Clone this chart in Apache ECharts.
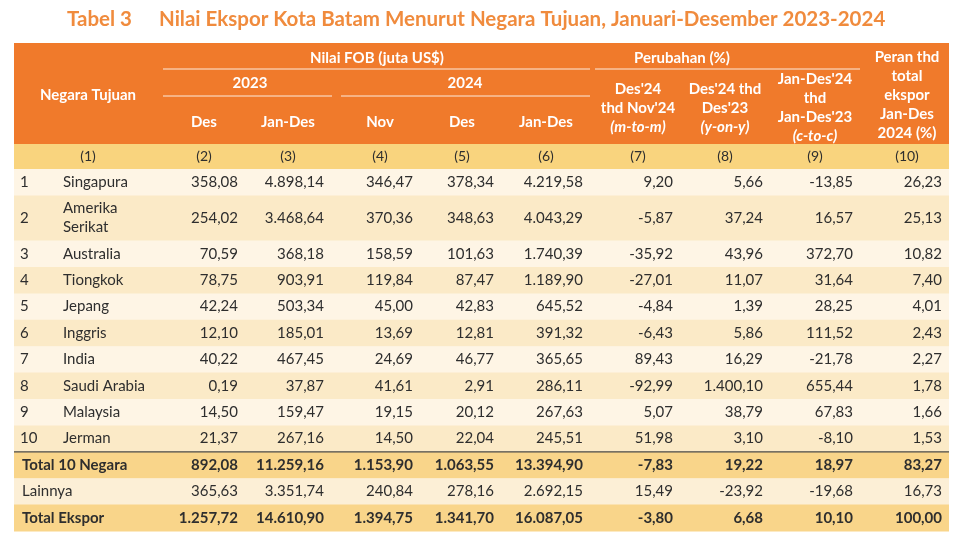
<!DOCTYPE html>
<html>
<head>
<meta charset="utf-8">
<script src="https://cdn.jsdelivr.net/npm/echarts@6/dist/echarts.min.js"></script>
<style>
  html, body { margin: 0; padding: 0; background: #fff; }
  #chart { width: 964px; height: 537px; }
</style>
</head>
<body>
<div id="chart"></div>
<script>
// --- data (values as printed in the table) ---
const tableNo = 'Tabel 3';
const tableTitle = 'Nilai Ekspor Kota Batam Menurut Negara Tujuan, Januari-Desember 2023-2024';

const rowNumbers = ['1', '2', '3', '4', '5', '6', '7', '8', '9', '10', '', '', ''];
const rowLabels = ['Singapura', 'Amerika\nSerikat', 'Australia', 'Tiongkok', 'Jepang', 'Inggris',
  'India', 'Saudi Arabia', 'Malaysia', 'Jerman', 'Total 10 Negara', 'Lainnya', 'Total Ekspor'];

const des2023    = [358.08, 254.02, 70.59, 78.75, 42.24, 12.10, 40.22, 0.19, 14.50, 21.37, 892.08, 365.63, 1257.72];
const janDes2023 = [4898.14, 3468.64, 368.18, 903.91, 503.34, 185.01, 467.45, 37.87, 159.47, 267.16, 11259.16, 3351.74, 14610.90];
const nov2024    = [346.47, 370.36, 158.59, 119.84, 45.00, 13.69, 24.69, 41.61, 19.15, 14.50, 1153.90, 240.84, 1394.75];
const des2024    = [378.34, 348.63, 101.63, 87.47, 42.83, 12.81, 46.77, 2.91, 20.12, 22.04, 1063.55, 278.16, 1341.70];
const janDes2024 = [4219.58, 4043.29, 1740.39, 1189.90, 645.52, 391.32, 365.65, 286.11, 267.63, 245.51, 13394.90, 2692.15, 16087.05];
const mtm        = [9.20, -5.87, -35.92, -27.01, -4.84, -6.43, 89.43, -92.99, 5.07, 51.98, -7.83, 15.49, -3.80];
const yoy        = [5.66, 37.24, 43.96, 11.07, 1.39, 5.86, 16.29, 1400.10, 38.79, 3.10, 19.22, -23.92, 6.68];
const ctc        = [-13.85, 16.57, 372.70, 31.64, 28.25, 111.52, -21.78, 655.44, 67.83, -8.10, 18.97, -19.68, 10.10];
const share      = [26.23, 25.13, 10.82, 7.40, 4.01, 2.43, 2.27, 1.78, 1.66, 1.53, 83.27, 16.73, 100.00];

const valueColumns = [des2023, janDes2023, nov2024, des2024, janDes2024, mtm, yoy, ctc, share];
const columnNumbers = ['(1)', '(2)', '(3)', '(4)', '(5)', '(6)', '(7)', '(8)', '(9)', '(10)'];

// header labels
const headStub = 'Negara Tujuan';
const headGroups = ['Nilai FOB (juta US$)', 'Perubahan (%)'];
const headYears = ['2023', '2024'];
const headPeriods = ['Des', 'Jan-Des', 'Nov', 'Des', 'Jan-Des'];
const headChanges = [
  ['Des\'24', 'thd Nov\'24', '(m-to-m)'],
  ['Des\'24 thd', 'Des\'23', '(y-on-y)'],
  ['Jan-Des\'24', 'thd', 'Jan-Des\'23', '(c-to-c)']
];
const headShare = ['Peran thd', 'total', 'ekspor', 'Jan-Des', '2024 (%)'];

// --- layout (axis units = px inside the table box) ---
const W = 935, H = 488;
const headerH = 101, numRowH = 25;
const rowHeights = [26.6, 45, 26.4, 26.4, 26.4, 26.4, 26.4, 26.4, 26.4, 26.4, 26.4, 26.4, 26.4];
const colCenters = [74, 190, 274, 366, 448, 532, 624, 711, 801, 893];
const valueRight = [224, 310, 399, 480, 569, 659, 749, 839, 928];
const rowTops = [];
(function () { let y = headerH + numRowH; rowHeights.forEach(h => { rowTops.push(y); y += h; }); })();

const C = {
  orange: '#F07A2B', title: '#F08B3D', numRow: '#F9D47E',
  light: '#FEF5E5', dark: '#FBEAC7', total: '#F9D58A', other: '#FCEFD6',
  text: '#2E2E2E', rule: 'rgba(255,255,255,0.85)'
};
const FONT = 'Lato, "Open Sans", sans-serif';

function fmt(v) {
  const neg = v < 0;
  const parts = Math.abs(v).toFixed(2).split('.');
  const int = parts[0].replace(/\B(?=(\d{3})+(?!\d))/g, '.');
  return (neg ? '-' : '') + int + ',' + parts[1];
}
function isBoldRow(r) { return r === 10 || r === 12; }
function rowFill(r) {
  if (r === 10 || r === 12) return C.total;
  if (r === 11) return C.other;
  return r % 2 === 0 ? C.light : C.dark;
}

const richHead = {
  b: { fontFamily: FONT, fontWeight: 'bold', fontSize: 15, lineHeight: 19, fill: '#fff', color: '#fff' },
  i: { fontFamily: FONT, fontWeight: 'bold', fontStyle: 'italic', fontSize: 15, lineHeight: 19, fill: '#fff', color: '#fff' }
};

// header cells: [text lines, center x, center y]
const headerCells = [
  [[headStub], colCenters[0], 52],
  [[headGroups[0]], 363, 15],
  [[headGroups[1]], 668, 15],
  [[headYears[0]], 236, 40],
  [[headYears[1]], 451, 40]
];
headPeriods.forEach((t, i) => headerCells.push([[t], colCenters[i + 1], 79]));
headChanges.forEach((lines, i) => headerCells.push([lines, colCenters[i + 6], 65]));
headerCells.push([headShare, colCenters[9], 52]);

// header rules: [y, x1, x2]
const headerRules = [[26, 149, 576], [26, 581, 846], [53, 149, 318], [53, 327, 576]];

// body cells: [col, row]
const bodyCells = [];
rowLabels.forEach((_, r) => { for (let c = -2; c < valueColumns.length; c++) bodyCells.push([c, r]); });

const chart = echarts.init(document.getElementById('chart'));
chart.setOption({
  animation: false,
  title: {
    left: 62, top: 4,
    text: '{a|' + tableNo + '}{g|}{a|' + tableTitle + '}',
    textStyle: {
      rich: {
        a: { fontFamily: FONT, fontWeight: 'bold', fontSize: 20.5, color: C.title },
        g: { width: 27 }
      }
    }
  },
  grid: { left: 14, top: 43, width: W, height: H },
  xAxis: { type: 'value', min: 0, max: W, show: false },
  yAxis: { type: 'value', min: 0, max: H, inverse: true, show: false },
  series: [
    { // backgrounds
      type: 'custom', silent: true, clip: false,
      data: [-2, -1].concat(rowLabels.map((_, r) => r)),
      encode: { x: -1, y: -1 },
      renderItem(params, api) {
        const r = api.value(0);
        let y0, h, fill;
        if (r === -2) { y0 = 0; h = headerH; fill = C.orange; }
        else if (r === -1) { y0 = headerH; h = numRowH; fill = C.numRow; }
        else { y0 = rowTops[r]; h = rowHeights[r]; fill = rowFill(r); }
        const p0 = api.coord([0, y0]), p1 = api.coord([W, y0 + h]);
        const children = [{ type: 'rect', shape: { x: p0[0], y: p0[1], width: p1[0] - p0[0], height: p1[1] - p0[1] + 0.5 }, style: { fill } }];
        if (r === -2) {
          headerRules.forEach(([y, x1, x2]) => {
            const a = api.coord([x1, y]), b = api.coord([x2, y]);
            children.push({ type: 'line', shape: { x1: a[0], y1: a[1], x2: b[0], y2: b[1] }, style: { stroke: C.rule, lineWidth: 1 } });
          });
        }
        if (r === 9) {
          const a = api.coord([0, y0 + h]), b = api.coord([W, y0 + h]);
          children.push({ type: 'line', z2: 5, shape: { x1: a[0], y1: a[1], x2: b[0], y2: b[1] }, style: { stroke: '#4a4a4a', lineWidth: 1.2 } });
        }
        return { type: 'group', children };
      }
    },
    { // header texts
      type: 'custom', silent: true, clip: false, z: 3,
      data: headerCells.map((_, i) => i),
      encode: { x: -1, y: -1 },
      renderItem(params, api) {
        const [lines, cx, cy] = headerCells[api.value(0)];
        const p = api.coord([cx, cy]);
        const text = lines.map(l => (/^\(.*-.*\)$/.test(l) ? '{i|' : '{b|') + l + '}').join('\n');
        return {
          type: 'text',
          style: { x: p[0], y: p[1], text, rich: richHead, align: 'center', verticalAlign: 'middle', fill: '#fff',
            font: 'bold 15px ' + FONT }
        };
      }
    },
    { // column number row
      type: 'custom', silent: true, clip: false, z: 3,
      data: columnNumbers.map((_, i) => i),
      encode: { x: -1, y: -1 },
      renderItem(params, api) {
        const i = api.value(0);
        const p = api.coord([colCenters[i], headerH + numRowH / 2]);
        return { type: 'text', style: { x: p[0], y: p[1], text: columnNumbers[i], align: 'center', verticalAlign: 'middle',
          fill: C.text, font: '14px ' + FONT } };
      }
    },
    { // body texts
      type: 'custom', silent: true, clip: false, z: 3,
      data: bodyCells,
      encode: { x: -1, y: -1 },
      renderItem(params, api) {
        const c = api.value(0), r = api.value(1);
        const cy = rowTops[r] + rowHeights[r] / 2;
        const font = (isBoldRow(r) ? 'bold ' : '') + '15px ' + FONT;
        let x, text, align;
        if (c === -2) {
          if (r >= 10) return null;
          x = 6; text = rowNumbers[r]; align = 'left';
        } else if (c === -1) {
          x = r >= 10 ? 8 : 49; text = rowLabels[r]; align = 'left';
        } else {
          x = valueRight[c]; text = fmt(valueColumns[c][r]); align = 'right';
        }
        const p = api.coord([x, cy]);
        return { type: 'text', style: { x: p[0], y: p[1], text, align, verticalAlign: 'middle', fill: C.text, font, lineHeight: 19 } };
      }
    }
  ]
});
</script>
</body>
</html>
